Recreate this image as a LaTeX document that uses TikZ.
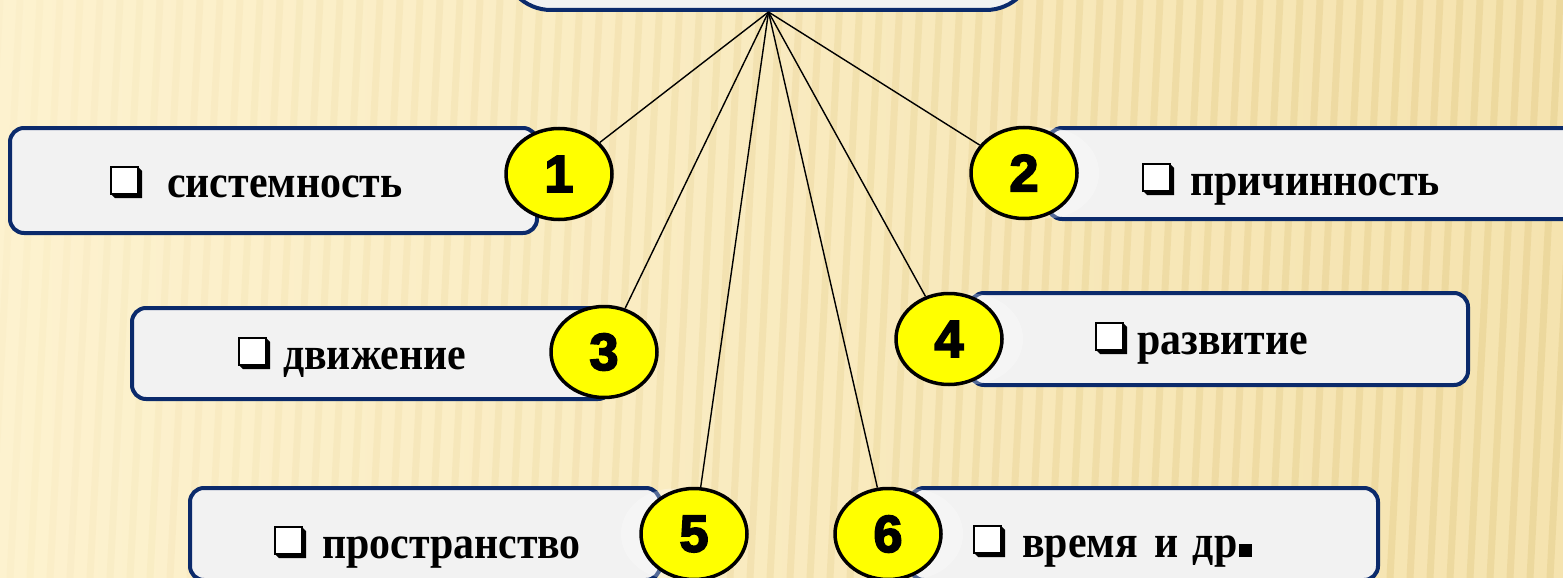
\documentclass[tikz,border=0pt]{standalone}
\usepackage{fontspec}
\setmainfont{Liberation Serif}
\newfontfamily\lblfont[FakeStretch=0.91]{Liberation Serif}
\newfontfamily\numfont[FakeBold=3.5]{Liberation Sans}
\usetikzlibrary{shapes.geometric}
\definecolor{navy}{HTML}{0B2A6B}
\definecolor{boxfill}{HTML}{F2F2F2}
\definecolor{bgL}{HTML}{FDF2CF}
\definecolor{bgR}{HTML}{F5E3AF}
\definecolor{stripe}{HTML}{E6CF8E}
\definecolor{yel}{HTML}{FFFF00}
\begin{document}
\begin{tikzpicture}[x=1pt,y=-1pt,
  box/.style={draw=navy,line width=4pt,fill=boxfill,rounded corners=14pt},
  num/.style={ellipse,draw=black,line width=3.5pt,fill=yel,minimum width=106pt,minimum height=91pt,inner sep=0pt,font=\numfont\bfseries\fontsize{52}{52}\selectfont},
  glow/.style={ellipse,fill=white,fill opacity=0.3,minimum width=106pt,minimum height=91pt,inner sep=0pt},
  lbl/.style={font=\lblfont\bfseries\fontsize{46}{46}\selectfont,inner sep=0pt,anchor=base west},
  conn/.style={line width=1.4pt,black},
  chk/.pic={\fill[black] (0,27) -- (4,31) -- (31,31) -- (31,4) -- (27,0) -- cycle;
            \draw[black,line width=1.6pt,fill=white] (0,0) rectangle (27,27);}]
\useasboundingbox (0,0) rectangle (1563,578);
% background
\fill[left color=bgL,right color=bgR] (0,0) rectangle (1563,578);
\foreach \i in {0,...,82}{
  \pgfmathsetmacro{\op}{0.06+0.5*\i/82}
  \draw[stripe,line width=7pt,opacity=\op] (\i*20,0) -- (\i*20-30,578);
}
% top box
\node[box,rounded corners=48pt,minimum width=531pt,minimum height=140pt] (top) at (768.5,-60) {};
% boxes
\node[box,minimum width=527pt,minimum height=105pt] (b1) at (273.5,180.5) {};
\node[box,minimum width=530pt,minimum height=91pt] (b2) at (1313,173.5) {};
\node[box,minimum width=480pt,minimum height=91pt] (b3) at (372,353.5) {};
\node[box,minimum width=498pt,minimum height=92pt] (b4) at (1219,339) {};
\node[box,minimum width=470pt,minimum height=92pt] (b5) at (425,534) {};
\node[box,minimum width=468pt,minimum height=92pt] (b6) at (1144,534) {};
% glows
\node[glow] (g2) at (1046,173) {};
\node[glow] (g4) at (970,339) {};
\node[glow] (g5) at (674,534) {};
\node[glow] (g6) at (910,534) {};
% number circles
\node[num] (c1) at (559,174) {1};
\node[num] (c2) at (1024,173) {2};
\node[num] (c3) at (604,352) {3};
\node[num] (c4) at (949,339) {4};
\node[num] (c5) at (694,534) {5};
\node[num] (c6) at (888,534) {6};
% connectors
\foreach \c in {c1,c2,c3,c4,c5,c6}{\draw[conn] (top.south) -- (\c);}
% labels
\pic at (111,167) {chk};
\node[lbl] (t1) at (167,197) {системность};
\pic at (1143,164) {chk};
\node[lbl] (t2) at (1190,195) {причинность};
\pic at (239,338) {chk};
\node[lbl] (t3) at (283,369) {движение};
\pic at (1096,323) {chk};
\node[lbl] (t4) at (1137,354) {развитие};
\pic at (275,527) {chk};
\node[lbl] (t5) at (322,558) {пространство};
\pic at (974,526) {chk};
\node[lbl] (t6) at (1022,557) {время\hspace{6pt} и\hspace{4pt} др\hspace{2pt}\rule{13pt}{13pt}};
\end{tikzpicture}
\end{document}
